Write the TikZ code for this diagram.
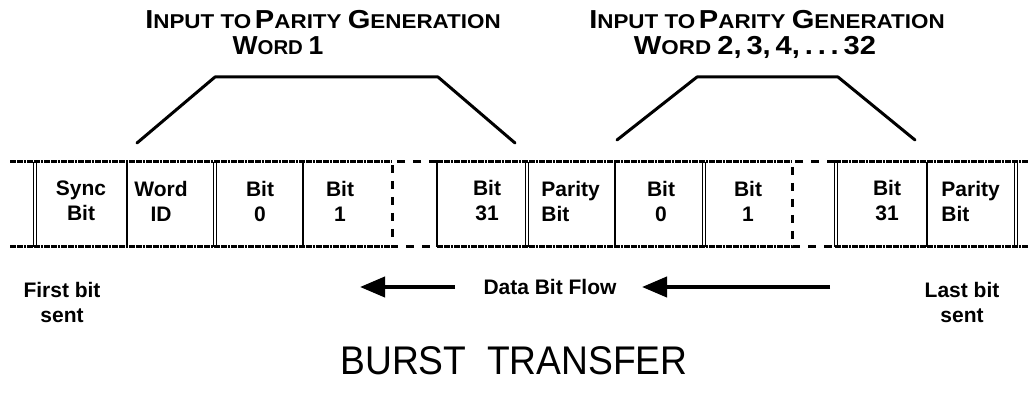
\documentclass[tikz,border=0pt]{standalone}
\usepackage{fontspec}
\usepackage{graphicx}
\setmainfont{Liberation Sans}
\usetikzlibrary{arrows.meta}
\newcommand\BigC[1]{{\fontsize{13pt}{13pt}\selectfont #1}}
\newcommand\SmC[1]{{\fontsize{10pt}{10pt}\selectfont #1}}
\newcommand\Wide[1]{\scalebox{1.12}[1]{#1}}
\begin{document}
\begin{tikzpicture}[x=0.5pt,y=-0.5pt,
  strip/.style={line width=1.5pt, dash pattern=on 1.4pt off 0.3pt},
  brk/.style={line width=1.5pt, dash pattern=on 4pt off 4pt},
  sep/.style={line width=1pt},
  dsep/.style={line width=0.5pt},
  trap/.style={line width=1.5pt, line join=round, line cap=round},
  lbl/.style={font=\bfseries\fontsize{10.5pt}{12.5pt}\selectfont, align=center, inner sep=0pt},
  lbll/.style={lbl, align=left, anchor=west},
  toplbl/.style={font=\bfseries, inner sep=0pt, anchor=base},
  botlbl/.style={font=\bfseries\fontsize{10.5pt}{12.5pt}\selectfont, align=center, inner sep=0pt},
  flow/.style={line width=2pt, -{Triangle[length=12.5pt,width=10pt]}},
  title/.style={font=\fontsize{20pt}{22pt}\selectfont, inner sep=0pt, anchor=base}
]
\useasboundingbox (0,0) rectangle (1028,394);
% strip lines
\foreach \y in {162,247} {
  \draw[strip] (10,\y) -- (392,\y);
  \draw[strip] (437,\y) -- (792,\y);
  \draw[strip] (835,\y) -- (1028,\y);
}
% breaks
\draw[brk] (437,162) -- (392,162) -- (392,247) -- (437,247);
\draw[brk] (835,162) -- (792,162) -- (792,247) -- (835,247);
% separators
\foreach \x in {127,303,437,615,927} \draw[sep] (\x,162) -- (\x,247);
\foreach \x in {34.5,215,526.5,704,835.5,1015.5} {
  \draw[dsep] (\x-1.5,162) -- (\x-1.5,247);
  \draw[dsep] (\x+1.5,162) -- (\x+1.5,247);
}
% cell labels
\node[lbl] (sync) at (81,201) {Sync\\Bit};
\node[lbl] (wid) at (161,201) {Word\\ID};
\node[lbl] (b0a) at (260,201) {Bit\\0};
\node[lbl] (b1a) at (340,201) {Bit\\1};
\node[lbl] (b31a) at (487,201) {Bit\\31};
\node[lbll] (pa) at (541,201) {Parity\\Bit};
\node[lbl] (b0b) at (661,201) {Bit\\0};
\node[lbl] (b1b) at (748,201) {Bit\\1};
\node[lbl] (b31b) at (887,201) {Bit\\31};
\node[lbll] (pb) at (941,201) {Parity\\Bit};
% top labels
\node[toplbl] (t1a) at (323,29) {\Wide{\BigC{I}\SmC{NPUT TO}\,\BigC{P}\SmC{ARITY} \BigC{G}\SmC{ENERATION}}};
\node[toplbl] (t1b) at (278,55) {\scalebox{1.02}[1]{\BigC{W}\SmC{ORD} \BigC{1}}};
\node[toplbl] (t2a) at (767,29) {\Wide{\BigC{I}\SmC{NPUT TO}\,\BigC{P}\SmC{ARITY} \BigC{G}\SmC{ENERATION}}};
\node[toplbl] (t2b) at (755,55) {\Wide{\BigC{W}\SmC{ORD} \BigC{2,\,3,\,4,\,.\,.\,.\,32}}};
% brackets
\coordinate (l1) at (137,143); \coordinate (l2) at (215,77);
\coordinate (l3) at (438,77); \coordinate (l4) at (515,143);
\draw[trap] (l1) -- (l2) -- (l3) -- (l4);
\coordinate (r1) at (617,140); \coordinate (r2) at (697,77);
\coordinate (r3) at (838,77); \coordinate (r4) at (915,140);
\draw[trap] (r1) -- (r2) -- (r3) -- (r4);
% bottom labels
\node[botlbl] (first) at (62,302) {First bit\\sent};
\node[botlbl] (last) at (962,302) {Last bit\\sent};
\node[botlbl, anchor=base] (dbf) at (550,295) {Data Bit Flow};
\coordinate (a1s) at (455,287); \coordinate (a1e) at (360,287);
\coordinate (a2s) at (830,287); \coordinate (a2e) at (642,287);
\draw[flow] (a1s) -- (a1e);
\draw[flow] (a2s) -- (a2e);
\node[title] (bt) at (514,375) {\scalebox{0.93}[1]{BURST\ \ TRANSFER}};
\end{tikzpicture}
\end{document}
